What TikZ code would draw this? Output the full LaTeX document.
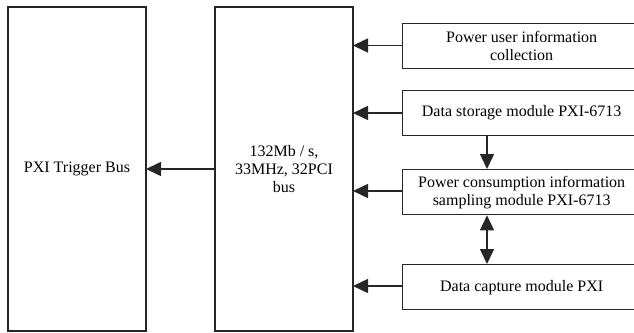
\documentclass[tikz,border=0pt]{standalone}
\usepackage{fontspec}
\setmainfont{Liberation Serif}
\usetikzlibrary{arrows.meta}
\begin{document}
\begin{tikzpicture}[x=1pt,y=-1pt,
  blk/.style={draw=black!85,line width=1.3pt},
  lbl/.style={align=center,font=\fontsize{16}{18}\selectfont,inner sep=0pt},
  tip/.tip={Triangle[length=15pt,width=14pt]},
  flow/.style={draw=black!85,line width=1.5pt,-tip},
  both/.style={draw=black!85,line width=1.5pt,tip-tip}]
\useasboundingbox (0,0) rectangle (634,332);
% the two tall bus blocks
\draw[blk] (8,7) rectangle (146,331);
\node[lbl] (trig) at (77,169) {PXI Trigger Bus};
\draw[blk] (215,7) rectangle (353,331);
\node[lbl] (pci) at (284,169) {132Mb / s,\\33MHz, 32PCI\\bus};
\coordinate (trigE) at (146,169);
\coordinate (pciW) at (215,169);
% module blocks on the right
\node[blk,minimum width=238pt,minimum height=45pt,anchor=north west,lbl] (m1) at (402,23) {Power user information\\collection};
\node[blk,minimum width=238pt,minimum height=45pt,anchor=north west,lbl] (m2) at (402,90) {Data storage module PXI-6713};
\node[blk,minimum width=238pt,minimum height=45pt,anchor=north west,lbl] (m3) at (402,169) {Power consumption information\\sampling module PXI-6713};
\node[blk,minimum width=238pt,minimum height=45pt,anchor=north west,lbl] (m4) at (402,264) {Data capture module PXI};
% connectors
\draw[flow] (pciW) -- (trigE);
\foreach \m/\yy in {m1/45.5,m2/113,m3/191,m4/286}{
  \draw[flow] (\m.west |- 0,\yy) -- (353,\yy);
}
\draw[flow] (m2.south -| 487,0) -- (m3.north -| 487,0);
\draw[both] (m3.south -| 487,0) -- (m4.north -| 487,0);
\end{tikzpicture}
\end{document}
